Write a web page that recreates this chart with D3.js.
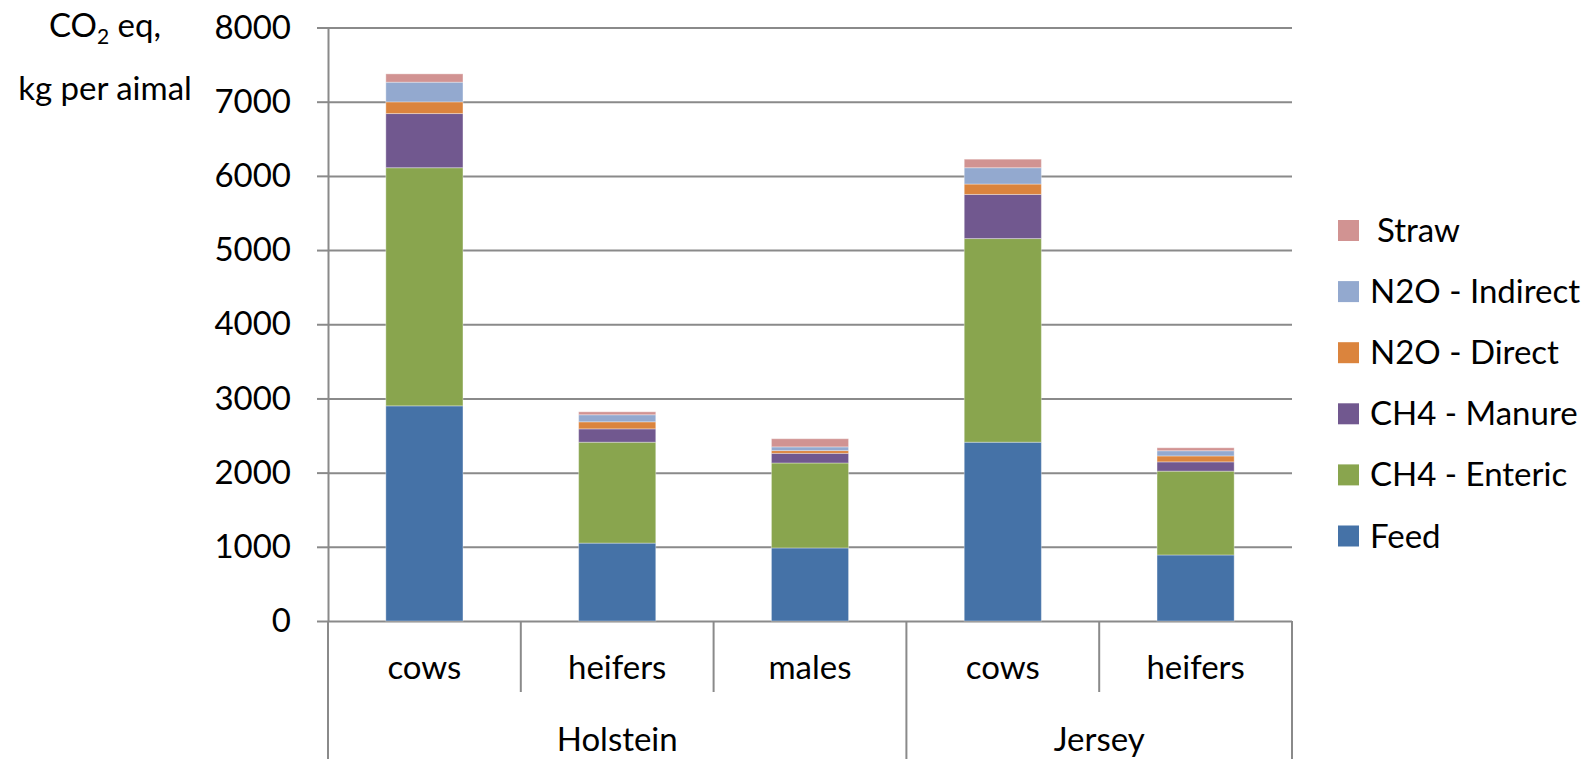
<!DOCTYPE html>
<html>
<head>
<meta charset="utf-8">
<script src="https://cdn.jsdelivr.net/npm/d3@7"></script>
<style>
  body { margin: 0; background: #fff; }
  svg text { font-family: Lato, "Open Sans", sans-serif; fill: #000; }
</style>
</head>
<body>
<div id="chart"></div>
<script>
// data
var categories = ["cows", "heifers", "males", "cows", "heifers"];
var groups = ["Holstein", "Holstein", "Holstein", "Jersey", "Jersey"];
var seriesNames = ["Feed", "CH4 - Enteric", "CH4 - Manure", "N2O - Direct", "N2O - Indirect", "Straw"];
var feed = [2900, 1050, 985, 2410, 890];
var enteric = [3210, 1360, 1145, 2745, 1130];
var manure = [730, 180, 130, 595, 125];
var n2oDirect = [158, 95, 37, 140, 80];
var n2oIndirect = [265, 95, 50, 220, 70];
var straw = [112, 40, 110, 115, 40];
var colors = ["#4572A7", "#89A54E", "#71588F", "#DB843D", "#93A9CF", "#D19392"];
var yTicks = [0, 1000, 2000, 3000, 4000, 5000, 6000, 7000, 8000];

var width = 1585, height = 759;
var plotLeft = 328, plotRight = 1292, plotTop = 27.5, plotBottom = 621;
var fs = 33;

var svg = d3.select("#chart").append("svg")
    .attr("width", width)
    .attr("height", height);

var rows = categories.map(function(c, i){
    return {
        i: i,
        "Feed": feed[i],
        "CH4 - Enteric": enteric[i],
        "CH4 - Manure": manure[i],
        "N2O - Direct": n2oDirect[i],
        "N2O - Indirect": n2oIndirect[i],
        "Straw": straw[i]
    };
});
var stacked = d3.stack().keys(seriesNames)(rows);

var x = d3.scaleBand()
    .domain(d3.range(categories.length))
    .range([plotLeft, plotRight])
    .paddingInner(0.6)
    .paddingOuter(0.3);

var y = d3.scaleLinear()
    .domain([0, 8000])
    .range([plotBottom, plotTop]);

// gridlines
svg.append("g")
    .attr("class", "grid")
    .attr("transform", "translate(" + plotLeft + ",0)")
    .call(d3.axisLeft(y).tickValues(yTicks).tickSize(-(plotRight - plotLeft)).tickFormat(""))
    .call(function(g){
        g.select(".domain").remove();
        g.selectAll("line").attr("stroke", "#8a8a8a").attr("stroke-width", 2);
    });

// bars
svg.selectAll(".series")
    .data(stacked).enter().append("g")
    .attr("class", "series")
    .attr("fill", function(d, i){ return colors[i]; })
    .selectAll("rect")
    .data(function(d){ return d; }).enter().append("rect")
    .attr("x", function(d){ return x(d.data.i); })
    .attr("y", function(d){ return y(d[1]); })
    .attr("width", x.bandwidth())
    .attr("height", function(d){ return y(d[0]) - y(d[1]); })
    .attr("stroke", "rgba(255,255,255,0.35)")
    .attr("stroke-width", 1);

// y axis
svg.append("g")
    .attr("transform", "translate(" + plotLeft + ",0)")
    .call(d3.axisLeft(y).tickValues(yTicks).tickFormat(d3.format("d"))
        .tickSize(11).tickSizeOuter(0).tickPadding(26))
    .call(function(g){
        g.select(".domain").attr("stroke", "#8a8a8a").attr("stroke-width", 2);
        g.selectAll("line").attr("stroke", "#8a8a8a").attr("stroke-width", 2);
        g.selectAll("text").attr("font-size", fs).attr("font-family", "Lato").attr("fill", "#000");
    });

// x axis: category separators and labels
var step = x.step();
var bounds = d3.range(categories.length + 1).map(function(k){ return plotLeft + k * step; });
svg.selectAll(".sep")
    .data(bounds).enter().append("line")
    .attr("x1", function(d){ return d; })
    .attr("x2", function(d){ return d; })
    .attr("y1", plotBottom)
    .attr("y2", function(d, k){
        var isGroupEdge = k == 0 || k == categories.length || groups[k] != groups[k - 1];
        return isGroupEdge ? height : 692;
    })
    .attr("stroke", "#8a8a8a")
    .attr("stroke-width", 2);

svg.selectAll(".cat")
    .data(categories).enter().append("text")
    .attr("x", function(d, i){ return x(i) + x.bandwidth() / 2; })
    .attr("y", 679)
    .attr("text-anchor", "middle")
    .attr("font-size", fs)
    .text(function(d){ return d; });

var groupNames = Array.from(new Set(groups));
svg.selectAll(".grp")
    .data(groupNames).enter().append("text")
    .attr("x", function(g){
        var idx = d3.range(groups.length).filter(function(i){ return groups[i] == g; });
        return plotLeft + (idx[0] + (idx[idx.length - 1] + 1)) / 2 * step;
    })
    .attr("y", 751)
    .attr("text-anchor", "middle")
    .attr("font-size", fs)
    .text(function(d){ return d; });

// y label
var lab = svg.append("text")
    .attr("x", 105)
    .attr("y", 37)
    .attr("text-anchor", "middle")
    .attr("font-size", fs);
lab.append("tspan").text("CO");
lab.append("tspan").attr("font-size", 21).attr("dy", 7).text("2");
lab.append("tspan").attr("dy", -7).text(" eq,");
svg.append("text")
    .attr("x", 105)
    .attr("y", 100)
    .attr("text-anchor", "middle")
    .attr("font-size", fs)
    .text("kg per aimal");

// legend, top item is Straw
var legendNames = seriesNames.slice().reverse();
var legend = svg.selectAll(".legend")
    .data(legendNames).enter().append("g")
    .attr("transform", function(d, i){ return "translate(1338," + (230.5 + i * 61.1) + ")"; });
legend.append("rect")
    .attr("x", 0)
    .attr("y", -10.5)
    .attr("width", 21)
    .attr("height", 21)
    .attr("fill", function(d){ return colors[seriesNames.indexOf(d)]; });
legend.append("text")
    .attr("x", function(d){ return d == "Straw" ? 39 : 32; })
    .attr("y", 11.5)
    .attr("font-size", fs)
    .text(function(d){ return d; });
</script>
</body>
</html>
